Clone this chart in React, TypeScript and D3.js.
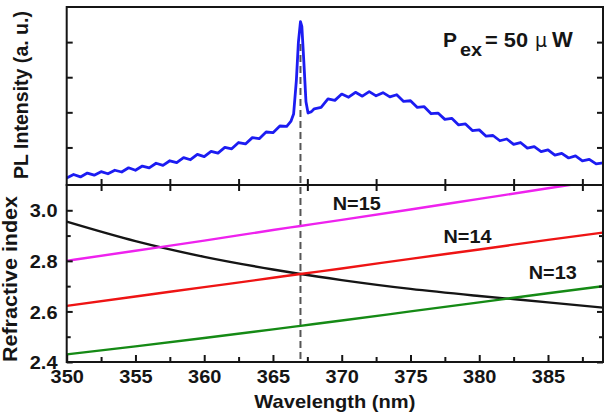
import { useEffect, useRef } from "react";
import * as d3 from "d3";

// PL spectrum (arb. units)
const plWavelength = [
  350, 350.5, 351, 351.5, 352, 352.5, 353, 353.5, 354, 354.5, 355, 355.5, 356, 356.5, 357, 357.5,
  358, 358.5, 359, 359.5, 360, 360.5, 361, 361.5, 362, 362.5, 363, 363.5, 364, 364.5, 365, 365.5,
  366, 366.3, 366.5, 366.7, 366.85, 367, 367.1, 367.25, 367.4, 367.55, 367.8, 368, 368.5, 369,
  369.5, 370, 370.5, 371, 371.5, 372, 372.5, 373, 373.5, 374, 374.5, 375, 375.5, 376, 376.5, 377,
  377.5, 378, 378.5, 379, 379.5, 380, 380.5, 381, 381.5, 382, 382.5, 383, 383.5, 384, 384.5, 385,
  385.5, 386, 386.5, 387, 387.5, 388, 388.5, 389,
];
const plIntensity = [
  0.13, 0.23, 0.16, 0.27, 0.21, 0.31, 0.25, 0.35, 0.3, 0.42, 0.35, 0.47, 0.42, 0.55, 0.49, 0.62,
  0.57, 0.71, 0.65, 0.8, 0.74, 0.89, 0.84, 1.0, 0.96, 1.14, 1.1, 1.28, 1.25, 1.44, 1.42, 1.61,
  1.6, 1.74, 1.95, 2.9, 4.0, 4.58, 4.45, 3.4, 2.3, 1.98, 2.02, 2.1, 2.14, 2.38,
  2.34, 2.52, 2.43, 2.57, 2.46, 2.59, 2.47, 2.56, 2.44, 2.5, 2.31, 2.33, 2.14, 2.16, 1.96, 1.98,
  1.8, 1.83, 1.64, 1.67, 1.48, 1.5, 1.32, 1.34, 1.19, 1.24, 1.09, 1.14, 0.98, 1.02, 0.88, 0.93,
  0.78, 0.83, 0.7, 0.76, 0.62, 0.66, 0.53, 0.56,
];

// bottom panel: mode condition lines and the material index
const modeWavelength = [350, 355, 360, 365, 367, 370, 375, 380, 385, 389];
const modeN15 = [2.8, 2.84, 2.88, 2.922, 2.938, 2.962, 3.003, 3.045, 3.087, 3.12];
const modeN14 = [2.622, 2.659, 2.696, 2.733, 2.748, 2.77, 2.808, 2.845, 2.883, 2.912];
const modeN13 = [2.43, 2.462, 2.495, 2.529, 2.543, 2.564, 2.6, 2.636, 2.672, 2.7];
const materialIndex = [2.955, 2.878, 2.816, 2.766, 2.748, 2.724, 2.689, 2.661, 2.636, 2.615];
const modeNames = ["N=15", "N=14", "N=13"];

const xTicks = [350, 355, 360, 365, 370, 375, 380, 385];
const xMinorTicks = [352.5, 357.5, 362.5, 367.5, 372.5, 377.5, 382.5, 387.5];
const riTicks = [2.4, 2.6, 2.8, 3.0];
const riMinorTicks = [2.5, 2.7, 2.9];
const plTicks = [1, 2, 3, 4];
const peakWavelength = 367;

const W = 612;
const H = 415;
const FONT = "'Liberation Sans', Arial, Helvetica, sans-serif";
const INK = "#151515";

function App() {
  const svgRef = useRef<SVGSVGElement>(null);

  useEffect(() => {
    const svg = d3.select(svgRef.current);
    svg.selectAll("*").remove();

    const left = 66.7;
    const right = 603;
    const top = 7;
    const mid = 185;
    const bottom = 362;

    const x = d3.scaleLinear().domain([350, 389]).range([left, right]);
    const yTop = d3.scaleLinear().domain([-0.07, 5]).range([mid, top]);
    const yBot = d3.scaleLinear().domain([2.4, 3.1]).range([bottom, mid]);

    svg
      .append("defs")
      .append("clipPath")
      .attr("id", "botClip")
      .append("rect")
      .attr("x", left)
      .attr("y", mid)
      .attr("width", right - left)
      .attr("height", bottom - mid);

    // dashed marker at the lasing peak, under the curves
    svg
      .append("line")
      .attr("x1", x(peakWavelength))
      .attr("x2", x(peakWavelength))
      .attr("y1", 44)
      .attr("y2", bottom)
      .attr("stroke", "#555")
      .attr("stroke-width", 2)
      .attr("stroke-dasharray", "7,4");

    // PL spectrum
    const plLine = d3
      .line<number>()
      .x((d, i) => x(plWavelength[i]))
      .y((d) => yTop(d));
    svg
      .append("path")
      .attr("d", plLine(plIntensity))
      .attr("fill", "none")
      .attr("stroke", "#1c1cf2")
      .attr("stroke-width", 2.8)
      .attr("stroke-linejoin", "round");

    // bottom panel curves
    const modeLine = d3
      .line<number>()
      .x((d, i) => x(modeWavelength[i]))
      .y((d) => yBot(d))
      .curve(d3.curveMonotoneX);
    const series: [number[], string][] = [
      [materialIndex, "#151515"],
      [modeN15, "#ee22ee"],
      [modeN14, "#ee1414"],
      [modeN13, "#158a15"],
    ];
    const curves = svg.append("g").attr("clip-path", "url(#botClip)");
    series.forEach(([vals, color]) => {
      curves
        .append("path")
        .attr("d", modeLine(vals))
        .attr("fill", "none")
        .attr("stroke", color)
        .attr("stroke-width", 2.4);
    });

    // frames
    [
      [top, mid],
      [mid, bottom],
    ].forEach(([a, b]) => {
      svg
        .append("rect")
        .attr("x", left)
        .attr("y", a)
        .attr("width", right - left)
        .attr("height", b - a)
        .attr("fill", "none")
        .attr("stroke", INK)
        .attr("stroke-width", 2);
    });

    const tickAxis = (g: any, axis: any) => {
      g.attr("color", INK).call(axis);
      g.select(".domain").remove();
      g.selectAll("line").attr("stroke-width", 2);
      return g;
    };

    // bottom x axis with labels
    const xAxis = tickAxis(
      svg.append("g").attr("transform", `translate(0,${bottom})`),
      d3.axisBottom(x).tickValues(xTicks).tickSize(-7).tickFormat(d3.format("d"))
    );
    xAxis
      .selectAll("text")
      .attr("y", 21)
      .attr("dy", null)
      .attr("transform", "scale(1.08,1)")
      .style("font-family", FONT)
      .style("font-size", "18.5px")
      .style("font-weight", "bold");
    tickAxis(
      svg.append("g").attr("transform", `translate(0,${bottom})`),
      d3.axisBottom(x).tickValues(xMinorTicks).tickSize(-5).tickFormat(() => "")
    );

    // ticks on the shared edge
    tickAxis(
      svg.append("g").attr("transform", `translate(0,${mid})`),
      d3.axisBottom(x).tickValues(xMinorTicks).tickSize(-6).tickFormat(() => "")
    );
    tickAxis(
      svg.append("g").attr("transform", `translate(0,${mid})`),
      d3.axisTop(x).tickValues(xMinorTicks).tickSize(-6).tickFormat(() => "")
    );

    // refractive index axis
    const yAxis = tickAxis(
      svg.append("g").attr("transform", `translate(${left},0)`),
      d3.axisLeft(yBot).tickValues(riTicks).tickSize(-6).tickFormat(d3.format(".1f"))
    );
    yAxis
      .selectAll("text")
      .attr("x", -8.5)
      .attr("dy", "0.36em")
      .attr("transform", "scale(1.08,1)")
      .style("font-family", FONT)
      .style("font-size", "18.5px")
      .style("font-weight", "bold");
    tickAxis(
      svg.append("g").attr("transform", `translate(${left},0)`),
      d3.axisLeft(yBot).tickValues(riMinorTicks).tickSize(-4).tickFormat(() => "")
    );
    tickAxis(
      svg.append("g").attr("transform", `translate(${right},0)`),
      d3.axisRight(yBot).tickValues(riTicks).tickSize(-6).tickFormat(() => "")
    );
    tickAxis(
      svg.append("g").attr("transform", `translate(${right},0)`),
      d3.axisRight(yBot).tickValues(riMinorTicks).tickSize(-4).tickFormat(() => "")
    );

    // PL axis ticks (no labels)
    tickAxis(
      svg.append("g").attr("transform", `translate(${left},0)`),
      d3.axisLeft(yTop).tickValues(plTicks).tickSize(-6).tickFormat(() => "")
    );
    tickAxis(
      svg.append("g").attr("transform", `translate(${right},0)`),
      d3.axisRight(yTop).tickValues(plTicks).tickSize(-6).tickFormat(() => "")
    );

    const label = (tx: number, ty: number, text: string, size: number, len?: number) => {
      const t = svg
        .append("text")
        .attr("x", tx)
        .attr("y", ty)
        .attr("fill", INK)
        .style("font-family", FONT)
        .style("font-size", size + "px")
        .style("font-weight", "bold")
        .text(text);
      if (len) t.attr("textLength", len).attr("lengthAdjust", "spacingAndGlyphs");
      return t;
    };

    // mode labels
    const labelPos = [
      [369.35, 3.001],
      [377.4, 2.871],
      [383.6, 2.728],
    ];
    modeNames.forEach((name, i) => {
      label(x(labelPos[i][0]), yBot(labelPos[i][1]), name, 18.5, 48);
    });

    // axis titles
    label((left + right) / 2 - 80.5, 408, "Wavelength (nm)", 19, 161);
    label(-84, 0, "PL Intensity (a. u.)", 19.5, 168).attr(
      "transform",
      "translate(28,95) rotate(-90)"
    );
    label(-83, 0, "Refractive index", 20, 166).attr(
      "transform",
      "translate(17,279) rotate(-90)"
    );

    // excitation power
    label(443, 47, "P", 20, 14);
    label(460, 56, "ex", 18.5, 22);
    label(485, 47, "= 50", 20, 43);
    svg
      .append("text")
      .attr("x", 535)
      .attr("y", 47)
      .attr("fill", INK)
      .style("font-family", "'DejaVu Sans', sans-serif")
      .style("font-size", "19px")
      .text("\u00b5");
    label(552, 47, "W", 22);
  }, []);

  return (
    <svg
      ref={svgRef}
      width={W}
      height={H}
      style={{ position: "absolute", left: 0, top: 0, background: "#fff" }}
    />
  );
}

export default App;
